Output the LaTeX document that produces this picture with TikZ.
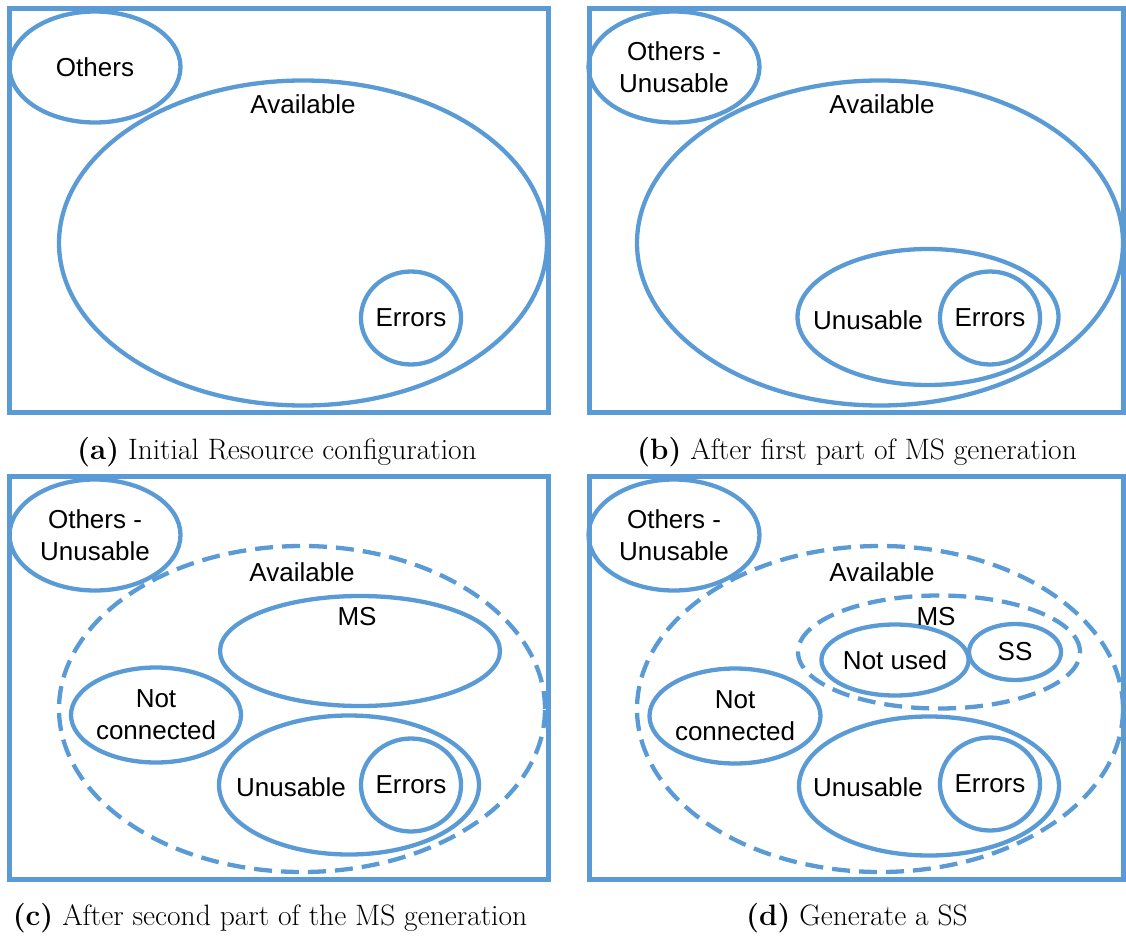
\documentclass[tikz,border=0pt]{standalone}
\usepackage{fontspec}
\newfontfamily\labfont{Liberation Sans}
\usetikzlibrary{shapes.geometric}
\definecolor{setblue}{HTML}{5B9BD5}
\tikzset{
  frame/.style={draw=setblue, line width=5pt},
  set/.style={ellipse, draw=setblue, line width=4.3pt, inner sep=0pt,
    font=\labfont\fontsize{26}{32}\selectfont, align=center},
  dset/.style={set, dash pattern=on 18pt off 9pt},
  lab/.style={font=\labfont\fontsize{26}{32}\selectfont, align=center, inner sep=0pt},
  subcap/.style={font=\fontsize{29.5}{34}\selectfont, inner sep=0pt},
}
\begin{document}
\begin{tikzpicture}[x=1pt, y=-1pt]
\useasboundingbox (0,0) rectangle (1126,936);

% ---------- (a) initial configuration ----------
\draw[frame] (9,9) rectangle (548,412);
\node[set, minimum width=488pt, minimum height=325pt] (aavail) at (303,243) {};
\node[set, minimum width=171pt, minimum height=111pt] (aoth) at (95,67) {Others};
\node[set, minimum width=93pt, minimum height=93pt] (aerr) at (411,318) {Errors};
\node[lab] (aavaillab) at (303,104) {Available};
\node[subcap] (acap) at (277,452) {\textbf{(a)} Initial Resource configuration};

% ---------- (b) after first part ----------
\draw[frame] (589,9) rectangle (1123,412);
\node[set, minimum width=486pt, minimum height=325pt] (bavail) at (880,243) {};
\node[set, minimum width=171pt, minimum height=111pt] (both) at (674,67) {Others -\\Unusable};
\node[set, minimum width=261pt, minimum height=136pt] (bunus) at (928,317) {};
\node[set, minimum width=93pt, minimum height=93pt] (berr) at (990,318) {Errors};
\node[lab] (bavaillab) at (882,104) {Available};
\node[lab] (bunuslab) at (868,320) {Unusable};
\node[subcap] (bcap) at (857,452) {\textbf{(b)} After first part of MS generation};

% ---------- (c) after second part ----------
\draw[frame] (9,476) rectangle (548,879);
\node[dset, minimum width=486pt, minimum height=326pt] (cavail) at (302,709) {};
\node[set, minimum width=171pt, minimum height=111pt] (coth) at (95,535) {Others -\\Unusable};
\node[set, minimum width=280pt, minimum height=110pt] (cms) at (360,651) {};
\node[set, minimum width=170pt, minimum height=95pt] (cnc) at (156,715) {Not\\connected};
\node[set, minimum width=260pt, minimum height=139pt] (cunus) at (349,785) {};
\node[set, minimum width=93pt, minimum height=93pt] (cerr) at (411,785) {Errors};
\node[lab] (cavaillab) at (302,572) {Available};
\node[lab] (cmslab) at (357,617) {MS};
\node[lab] (cunuslab) at (291,787) {Unusable};
\node[subcap] (ccap) at (270,918) {\textbf{(c)} After second part of the MS generation};

% ---------- (d) generate a SS ----------
\draw[frame] (589,476) rectangle (1123,879);
\node[dset, minimum width=486pt, minimum height=326pt] (davail) at (880,709) {};
\node[set, minimum width=171pt, minimum height=111pt] (doth) at (674,535) {Others -\\Unusable};
\node[dset, minimum width=282pt, minimum height=113pt] (dms) at (939,652) {};
\node[set, minimum width=140pt, minimum height=71pt] (dnu) at (895,660) {Not used};
\node[set, minimum width=92pt, minimum height=56pt] (dss) at (1015,652) {SS};
\node[set, minimum width=171pt, minimum height=95pt] (dnc) at (735,716) {Not\\connected};
\node[set, minimum width=260pt, minimum height=139pt] (dunus) at (929,786) {};
\node[set, minimum width=93pt, minimum height=93pt] (derr) at (990,784) {Errors};
\node[lab] (davaillab) at (882,572) {Available};
\node[lab] (dmslab) at (936,617) {MS};
\node[lab] (dunuslab) at (868,787) {Unusable};
\node[subcap] (dcap) at (857,918) {\textbf{(d)} Generate a SS};
\end{tikzpicture}
\end{document}
